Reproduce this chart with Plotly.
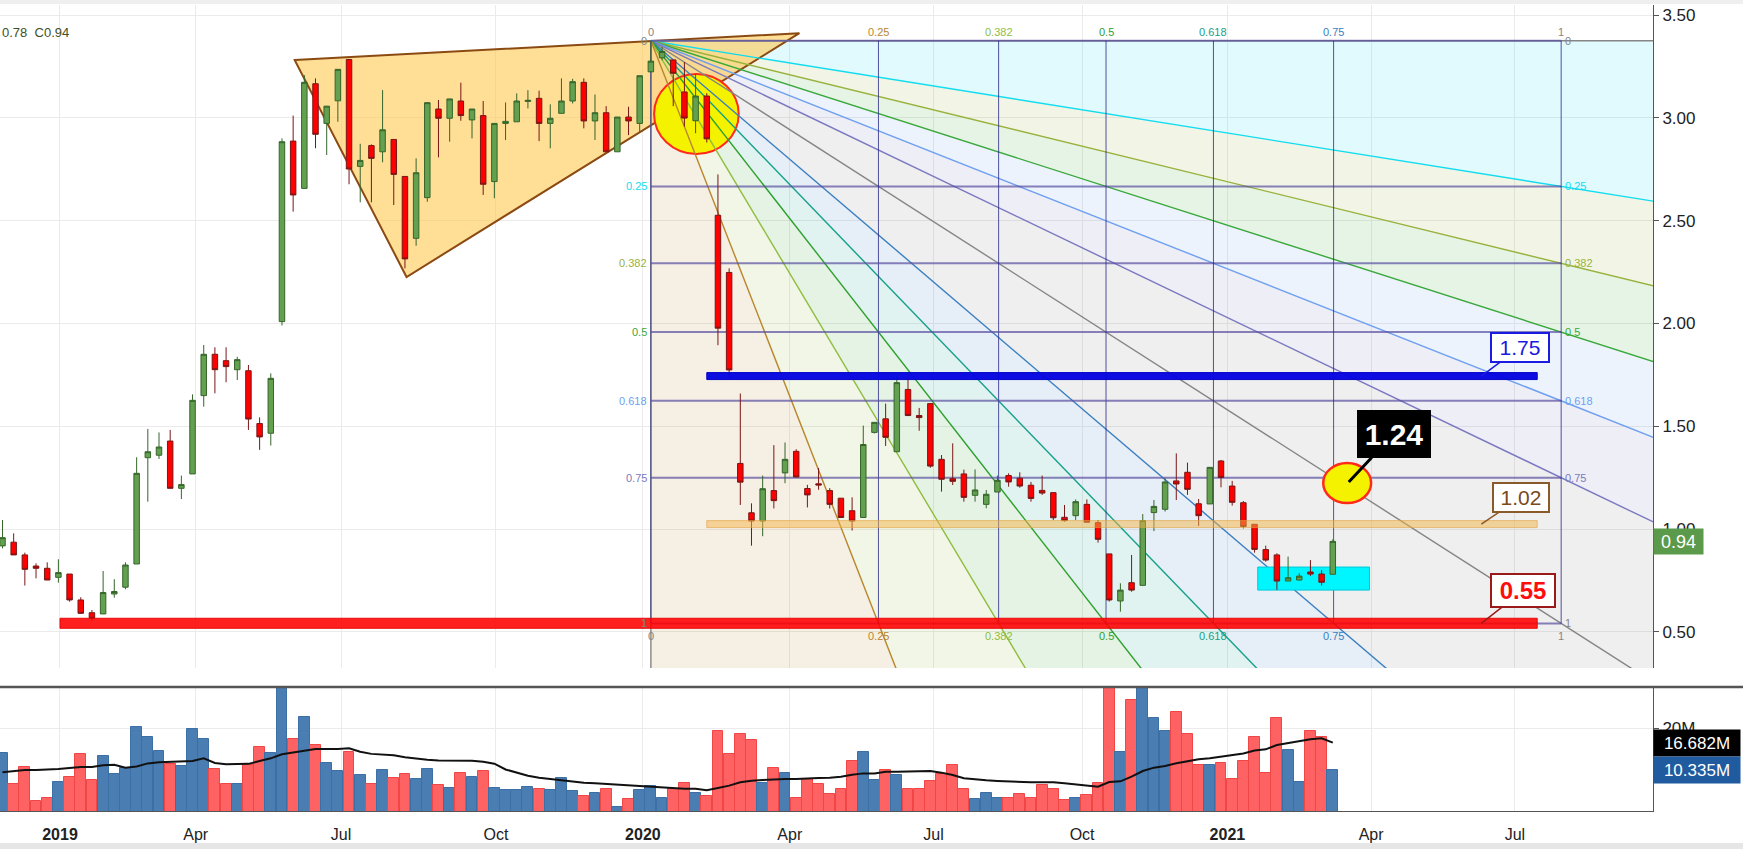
import numpy as np
import pandas as pd
import plotly.graph_objects as go

# ---------------- data (weekly bars) ----------------
FIRST_WEEK = "2018-11-26"
opens = [0.918, 0.936, 0.874, 0.820, 0.809, 0.765, 0.781, 0.655, 0.593, 0.587,
         0.684, 0.717, 0.830, 1.347, 1.359, 1.428, 1.198, 1.268, 1.649, 1.850,
         1.819, 1.775, 1.770, 1.513, 1.466, 2.009, 2.887, 2.657, 3.166, 2.973,
         3.083, 3.284, 2.764, 2.865, 2.835, 2.895, 2.715, 2.414, 2.612, 3.043,
         2.998, 3.082, 2.990, 3.011, 2.690, 2.973, 2.981, 3.080, 3.095, 2.973,
         3.022, 3.082, 3.173, 2.985, 3.025, 2.835, 3.004, 2.973, 3.224, 3.292,
         3.282, 3.126, 2.986, 3.106, 2.526, 2.248, 1.319, 1.079, 1.039, 1.187,
         1.273, 1.378, 1.197, 1.220, 1.187, 1.150, 1.089, 1.056, 1.470, 1.536,
         1.376, 1.679, 1.552, 1.610, 1.339, 1.245, 1.268, 1.164, 1.120, 1.180,
         1.260, 1.247, 1.213, 1.188, 1.177, 1.057, 1.065, 1.120, 1.031, 0.879,
         0.650, 0.739, 0.726, 1.080, 1.096, 1.234, 1.276, 1.123, 1.122, 1.331,
         1.209, 1.128, 1.023, 0.900, 0.874, 0.747, 0.752, 0.791, 0.781, 0.780]
highs = [1.044, 0.979, 0.885, 0.833, 0.838, 0.853, 0.781, 0.668, 0.606, 0.796,
         0.756, 0.838, 1.349, 1.487, 1.470, 1.482, 1.260, 1.655, 1.895, 1.884,
         1.884, 1.838, 1.798, 1.543, 1.757, 2.900, 3.011, 3.208, 3.192, 3.057,
         3.236, 3.284, 2.874, 2.871, 3.135, 2.895, 2.715, 2.803, 3.074, 3.087,
         3.092, 3.171, 3.043, 3.082, 2.973, 3.075, 3.119, 3.135, 3.132, 3.066,
         3.192, 3.190, 3.192, 3.114, 3.057, 3.004, 3.054, 3.205, 3.370, 3.345,
         3.282, 3.271, 3.213, 3.120, 2.725, 2.268, 1.659, 1.125, 1.260, 1.408,
         1.421, 1.388, 1.215, 1.297, 1.199, 1.150, 1.154, 1.503, 1.519, 1.610,
         1.741, 1.741, 1.589, 1.610, 1.360, 1.417, 1.289, 1.290, 1.190, 1.260,
         1.271, 1.276, 1.229, 1.260, 1.177, 1.117, 1.144, 1.144, 1.044, 0.879,
         0.736, 0.874, 1.073, 1.141, 1.247, 1.368, 1.323, 1.146, 1.300, 1.336,
         1.234, 1.136, 1.023, 0.919, 0.882, 0.866, 0.785, 0.849, 0.801, 0.950]
lows = [0.906, 0.874, 0.725, 0.760, 0.752, 0.739, 0.647, 0.587, 0.555, 0.587,
        0.666, 0.707, 0.830, 1.133, 1.341, 1.198, 1.146, 1.268, 1.595, 1.660,
        1.714, 1.725, 1.482, 1.385, 1.406, 1.990, 2.544, 2.657, 2.852, 2.819,
        2.981, 2.677, 2.589, 2.589, 2.784, 2.576, 2.268, 2.378, 2.592, 2.808,
        2.884, 2.986, 2.900, 2.625, 2.609, 2.892, 2.981, 3.046, 2.887, 2.852,
        3.022, 3.070, 2.949, 2.892, 2.835, 2.835, 2.916, 2.933, 3.221, 3.280,
        3.057, 2.958, 2.925, 2.880, 1.894, 1.733, 1.117, 0.919, 0.965, 1.100,
        1.223, 1.253, 1.105, 1.191, 1.100, 1.056, 0.993, 1.056, 1.465, 1.404,
        1.376, 1.552, 1.478, 1.298, 1.182, 1.214, 1.133, 1.133, 1.101, 1.180,
        1.206, 1.201, 1.133, 1.166, 1.044, 1.036, 1.044, 1.033, 0.934, 0.647,
        0.598, 0.695, 0.726, 0.990, 1.085, 1.141, 1.166, 1.015, 1.122, 1.203,
        1.114, 1.003, 0.885, 0.841, 0.704, 0.747, 0.749, 0.772, 0.725, 0.780]
closes = [0.958, 0.874, 0.804, 0.809, 0.752, 0.788, 0.655, 0.590, 0.566, 0.691,
          0.696, 0.825, 1.271, 1.376, 1.399, 1.198, 1.216, 1.626, 1.850, 1.775,
          1.790, 1.824, 1.535, 1.448, 1.733, 2.884, 2.625, 3.173, 2.920, 3.057,
          3.236, 2.751, 2.793, 2.803, 2.942, 2.725, 2.314, 2.733, 3.074, 2.998,
          3.092, 3.011, 3.043, 2.677, 2.973, 2.983, 3.082, 3.085, 2.973, 2.998,
          3.082, 3.176, 2.985, 3.025, 2.835, 3.004, 2.985, 3.205, 3.276, 3.323,
          3.217, 2.999, 3.106, 2.898, 1.977, 1.774, 1.228, 1.039, 1.196, 1.138,
          1.339, 1.253, 1.166, 1.214, 1.120, 1.056, 1.039, 1.411, 1.519, 1.446,
          1.712, 1.552, 1.542, 1.306, 1.242, 1.232, 1.154, 1.190, 1.169, 1.237,
          1.229, 1.209, 1.149, 1.175, 1.055, 1.041, 1.133, 1.033, 0.950, 0.655,
          0.703, 0.703, 1.041, 1.110, 1.229, 1.219, 1.193, 1.065, 1.300, 1.251,
          1.130, 1.012, 0.901, 0.849, 0.747, 0.763, 0.771, 0.781, 0.741, 0.940]
volume_m = [14.4, 7.15, 11.15, 3.15, 3.84, 7.6, 8.77, 14.0, 8.0, 13.6,
            9.45, 10.76, 20.4, 17.9, 14.76, 11.8, 11.3, 19.8, 17.5, 10.7,
            7.15, 7.15, 11.5, 15.7, 14.4, 32.0, 17.6, 22.7, 16.15, 11.9,
            10.2, 14.6, 9.23, 7.15, 10.45, 8.6, 9.45, 8.4, 10.6, 6.9,
            6.15, 9.7, 8.77, 10.2, 6.15, 5.7, 5.7, 6.46, 5.9, 5.77,
            8.46, 5.54, 4.38, 5.0, 6.07, 1.92, 3.61, 5.84, 6.6, 4.0,
            6.0, 7.3, 5.0, 4.46, 19.4, 14.0, 18.8, 17.3, 7.38, 10.84,
            9.6, 4.0, 8.3, 7.15, 4.77, 5.9, 12.45, 14.5, 8.15, 10.45,
            9.23, 6.07, 6.07, 7.9, 9.5, 11.46, 5.9, 3.77, 5.0, 4.0,
            4.0, 4.77, 4.0, 6.9, 6.07, 3.46, 4.0, 4.6, 7.3, 31.0,
            14.5, 26.6, 31.0, 22.3, 19.4, 23.8, 18.7, 11.5, 11.5, 11.9,
            8.38, 12.45, 18.07, 9.6, 22.45, 14.9, 7.6, 19.3, 18.1, 10.335]
volume_ma_m = [9.84, 10.15, 10.4, 10.4, 10.45, 10.6, 10.84, 11.07, 11.07, 11.46,
               11.6, 10.9, 11.2, 11.9, 12.15, 12.2, 12.3, 12.45, 13.07, 12.0,
               11.7, 11.7, 11.8, 12.45, 13.07, 14.0, 14.4, 14.84, 15.2, 15.2,
               15.2, 15.4, 14.6, 14.1, 13.9, 13.8, 13.3, 13.0, 12.76, 12.6,
               12.6, 12.6, 12.5, 12.3, 11.84, 10.5, 9.84, 9.07, 8.6, 8.3,
               8.15, 7.7, 7.46, 7.3, 7.15, 6.92, 6.77, 6.69, 6.46, 6.3,
               6.15, 6.07, 6.07, 5.69, 6.23, 6.77, 7.53, 7.92, 8.07, 8.23,
               8.3, 8.3, 8.46, 8.53, 8.6, 8.84, 9.3, 9.6, 9.6, 10.0,
               10.0, 10.07, 10.15, 10.15, 9.77, 9.23, 8.46, 8.15, 8.0, 7.84,
               7.69, 7.69, 7.53, 7.53, 7.53, 7.3, 7.0, 6.69, 6.54, 7.6,
               7.77, 8.84, 10.15, 10.92, 11.3, 11.92, 12.45, 12.84, 13.07, 13.5,
               13.84, 14.2, 14.9, 15.15, 16.15, 16.6, 16.9, 17.45, 17.7, 16.682]

tick_dates = ["2019-01-01", "2019-03-27", "2019-06-26", "2019-10-01", "2020-01-01",
              "2020-04-02", "2020-07-01", "2020-10-02", "2021-01-01", "2021-04-01", "2021-06-30"]
tick_text = ["<b>2019</b>", "Apr", "Jul", "Oct", "<b>2020</b>", "Apr", "Jul", "Oct",
             "<b>2021</b>", "Apr", "Jul"]
price_ticks = [0.5, 1.0, 1.5, 2.0, 2.5, 3.0, 3.5]
fib_levels = [0, 0.25, 0.382, 0.5, 0.618, 0.75, 1]
fib_labels = ["0", "0.25", "0.382", "0.5", "0.618", "0.75", "1"]

# drawings (anchor dates / prices)
FAN_T0, FAN_P0 = pd.Timestamp("2020-01-06"), 3.375
FAN_T1, FAN_P1 = pd.Timestamp("2021-07-29"), 0.541
TRIANGLE = [("2019-05-28", 3.281), ("2020-04-08", 3.412), ("2019-08-06", 2.226)]
ELLIPSE1 = ("2020-01-08", "2020-03-01", 2.824, 3.213)
ELLIPSE2 = ("2021-03-02", "2021-04-01", 1.126, 1.321)
CYAN_BOX = ("2021-01-20", "2021-03-31", 0.703, 0.815)
BAND_175 = ("2020-02-10", "2021-07-14", 1.727, 1.761)
BAND_102 = ("2020-02-10", "2021-07-14", 1.007, 1.041)
BAND_055 = ("2019-01-01", "2021-07-14", 0.517, 0.566)
CALLOUT_DATE = "2021-06-09"
CALLOUT_124 = ("2021-03-18", 1.229)
LAST_PRICE = 0.94
LAST_VOL_MA = 16.682
LAST_VOL = 10.335

dates = pd.date_range(FIRST_WEEK, periods=len(closes), freq="7D")

# ---------------- helpers ----------------
FONT = "Liberation Sans, Arial, sans-serif"


def rgba(hexcol, a):
    h = hexcol.lstrip("#")
    r, g, b = int(h[0:2], 16), int(h[2:4], 16), int(h[4:6], 16)
    return f"rgba({r},{g},{b},{a})"


def tpos(a):
    return FAN_T0 + (FAN_T1 - FAN_T0) * a


def ppos(b):
    return FAN_P0 - (FAN_P0 - FAN_P1) * b


def ds(t):
    return pd.Timestamp(t).strftime("%Y-%m-%d %H:%M:%S")


def pp(t, p):  # path point on a date axis
    return f"{pd.Timestamp(t).strftime('%Y-%m-%d_%H:%M:%S')},{p:.5f}"


GRAY = "#858585"
PRICE_COL = {0: GRAY, 0.25: "#12dcef", 0.382: "#98b23c", 0.5: "#3aa83a",
             0.618: "#6e9ff0", 0.75: "#7a78c0", 1: GRAY}
TIME_COL = {0: GRAY, 0.25: "#b8862b", 0.382: "#8fbd3f", 0.5: "#2ea02e",
            0.618: "#14a08a", 0.75: "#3a7fc1", 1: GRAY}

shapes = []
LAY = "between"

# ---------------- fan fills ----------------
rays = [(1, 0), (1, .25), (1, .382), (1, .5), (1, .618), (1, .75), (1, 1),
        (.75, 1), (.618, 1), (.5, 1), (.382, 1), (.25, 1), (0, 1)]
ray_cols = [PRICE_COL[0], PRICE_COL[.25], PRICE_COL[.382], PRICE_COL[.5], PRICE_COL[.618],
            PRICE_COL[.75], GRAY, TIME_COL[.75], TIME_COL[.618], TIME_COL[.5],
            TIME_COL[.382], TIME_COL[.25], TIME_COL[0]]
F = 4
for i in range(len(rays) - 1):
    a1, b1 = rays[i]
    a2, b2 = rays[i + 1]
    col = ray_cols[i + 1] if i < 6 else ray_cols[i]
    path = (f"M{pp(tpos(0), ppos(0))} L{pp(tpos(F * a1), ppos(F * b1))} "
            f"L{pp(tpos(F * a2), ppos(F * b2))} Z")
    shapes.append(dict(type="path", xref="x", yref="y", path=path, fillcolor=rgba(col, 0.13),
                       line=dict(width=0), layer=LAY))

# ---------------- triangle ----------------
tri_path = "M" + " L".join(pp(t, p) for t, p in TRIANGLE) + " Z"
shapes.append(dict(type="path", xref="x", yref="y", path=tri_path, fillcolor="rgba(255,202,85,0.62)",
                   line=dict(color="#8a4a12", width=2), layer=LAY))

# ---------------- ellipse 1 ----------------
shapes.append(dict(type="circle", xref="x", yref="y", x0=ELLIPSE1[0], x1=ELLIPSE1[1],
                   y0=ELLIPSE1[2], y1=ELLIPSE1[3], fillcolor="#f5f200",
                   line=dict(color="#ff2a1a", width=2), layer=LAY))

# ---------------- fan rays ----------------
for (a, b), col in zip(rays, ray_cols):
    shapes.append(dict(type="line", xref="x", yref="y", x0=ds(tpos(0)), y0=ppos(0),
                       x1=ds(tpos(F * a)), y1=ppos(F * b), line=dict(color=col, width=1.4), layer=LAY))

# ---------------- box grid ----------------
for lv in fib_levels:
    shapes.append(dict(type="line", xref="x", yref="y", x0=ds(tpos(0)), x1=ds(tpos(1)),
                       y0=ppos(lv), y1=ppos(lv), line=dict(color="rgba(88,78,160,0.7)", width=2), layer=LAY))
    shapes.append(dict(type="line", xref="x", yref="y", x0=ds(tpos(lv)), x1=ds(tpos(lv)),
                       y0=ppos(0), y1=ppos(1), line=dict(color="rgba(40,40,135,0.8)", width=1), layer=LAY))

# ---------------- cyan consolidation box ----------------
shapes.append(dict(type="rect", xref="x", yref="y", x0=CYAN_BOX[0], x1=CYAN_BOX[1],
                   y0=CYAN_BOX[2], y1=CYAN_BOX[3], fillcolor="#00f6ff",
                   line=dict(color="#00c8d8", width=1), layer=LAY))

# ---------------- level bands (above candles) ----------------
for (x0, x1, y0, y1), fc, lc in [(BAND_102, "rgba(243,180,70,0.5)", "rgba(225,160,60,0.6)"),
                                  (BAND_175, "rgba(5,5,225,0.97)", "rgba(5,5,200,1)"),
                                  (BAND_055, "rgba(255,0,0,0.88)", "rgba(230,0,0,0.9)")]:
    shapes.append(dict(type="rect", xref="x", yref="y", x0=x0, x1=x1, y0=y0, y1=y1,
                       fillcolor=fc, line=dict(color=lc, width=1), layer="above"))
shapes.append(dict(type="circle", xref="x", yref="y", x0=ELLIPSE2[0], x1=ELLIPSE2[1],
                   y0=ELLIPSE2[2], y1=ELLIPSE2[3], fillcolor="#f5f200",
                   line=dict(color="#ff2a1a", width=2.5), layer="above"))
# pane separator and chrome bands
shapes.append(dict(type="line", xref="paper", yref="paper", x0=0, x1=1, y0=1 - 687 / 849, y1=1 - 687 / 849,
                   line=dict(color="#555555", width=2.5)))
shapes.append(dict(type="rect", xref="paper", yref="paper", x0=0, x1=1, y0=1 - 4 / 849, y1=1,
                   fillcolor="#efefef", line=dict(width=0)))
shapes.append(dict(type="rect", xref="paper", yref="paper", x0=0, x1=1, y0=0, y1=6 / 849,
                   fillcolor="#e6e6e6", line=dict(width=0)))

fig = go.Figure()

# ---------------- candles ----------------
fig.add_trace(go.Candlestick(
    x=dates, open=opens, high=highs, low=lows, close=closes,
    increasing=dict(fillcolor="#63a150", line=dict(color="#35652a", width=1)),
    decreasing=dict(fillcolor="#ff0000", line=dict(color="#7a1616", width=1)),
    whiskerwidth=0, showlegend=False, hoverinfo="skip"))

# ---------------- volume ----------------
vcols = ["#4a7db2" if c >= o else "#ff6262" for o, c in zip(opens, closes)]
vline = ["#3c6fa6" if c >= o else "#f04646" for o, c in zip(opens, closes)]
fig.add_trace(go.Bar(x=dates, y=volume_m, yaxis="y2", marker=dict(color=vcols, line=dict(color=vline, width=1)),
                     width=7 * 86400000 * 0.97, showlegend=False, hoverinfo="skip"))
fig.add_trace(go.Scatter(x=dates, y=volume_ma_m, yaxis="y2", mode="lines",
                         line=dict(color="#111111", width=2), showlegend=False, hoverinfo="skip"))

# ---------------- annotations ----------------
ann = []
for lv, lab in zip(fib_levels, fib_labels):
    ann.append(dict(x=ds(tpos(lv)), y=ppos(0), xref="x", yref="y", text=lab, showarrow=False,
                    yanchor="bottom", yshift=1, font=dict(size=11, color=TIME_COL[lv], family=FONT)))
    ann.append(dict(x=ds(tpos(lv)), y=ppos(1), xref="x", yref="y", text=lab, showarrow=False,
                    yanchor="top", yshift=-5, font=dict(size=11, color=TIME_COL[lv], family=FONT)))
    ann.append(dict(x=ds(tpos(0)), y=ppos(lv), xref="x", yref="y", text=lab, showarrow=False,
                    xanchor="right", xshift=-2, font=dict(size=11, color=PRICE_COL[lv], family=FONT)))
    ann.append(dict(x=ds(tpos(1)), y=ppos(lv), xref="x", yref="y", text=lab, showarrow=False,
                    xanchor="left", xshift=2, font=dict(size=11, color=PRICE_COL[lv], family=FONT)))

# callouts
ann.append(dict(x=CALLOUT_DATE, y=(BAND_175[2] + BAND_175[3]) / 2, xref="x", yref="y", text="1.75",
                ax=39, ay=-29, showarrow=True, arrowhead=0, arrowwidth=1.5, arrowcolor="#1a1ae0",
                bgcolor="white", bordercolor="#1a1ae0", borderwidth=2, borderpad=1, width=54, height=25,
                font=dict(size=21, color="#1a1ae0", family=FONT)))
ann.append(dict(x=CALLOUT_DATE, y=(BAND_102[2] + BAND_102[3]) / 2, xref="x", yref="y", text="1.02",
                ax=40, ay=-27, showarrow=True, arrowhead=0, arrowwidth=1.5, arrowcolor="#8b5a2b",
                bgcolor="white", bordercolor="#8b5a2b", borderwidth=2, borderpad=1, width=52, height=25,
                font=dict(size=21, color="#7a4a1a", family=FONT)))
ann.append(dict(x=CALLOUT_DATE, y=(BAND_055[2] + BAND_055[3]) / 2, xref="x", yref="y", text="<b>0.55</b>",
                ax=42, ay=-33, showarrow=True, arrowhead=0, arrowwidth=1.5, arrowcolor="#9a1a1a",
                bgcolor="white", bordercolor="#9a1a1a", borderwidth=2, borderpad=1, width=60, height=29,
                font=dict(size=24, color="#ff0d0d", family=FONT)))
ann.append(dict(x=CALLOUT_124[0], y=CALLOUT_124[1], xref="x", yref="y", text="<b>1.24</b>",
                ax=45, ay=-48, showarrow=True, arrowhead=0, arrowwidth=3, arrowcolor="#000000",
                bgcolor="#000000", bordercolor="#000000", borderwidth=1, borderpad=4, width=64, height=38,
                font=dict(size=30, color="white", family=FONT)))

# right-side value labels
XR = 1653 / 1743
ann.append(dict(x=XR, y=LAST_PRICE, xref="paper", yref="y", text=f"{LAST_PRICE:.2f}", showarrow=False,
                xanchor="left", bgcolor="#5b9a4a", borderpad=3, width=43, height=19,
                font=dict(size=18, color="white", family=FONT)))
ann.append(dict(x=XR, y=LAST_VOL_MA, xref="paper", yref="y2", text=f"{LAST_VOL_MA:.3f}M", showarrow=False,
                xanchor="left", bgcolor="#000000", borderpad=2, width=82, height=22,
                font=dict(size=17, color="white", family=FONT)))
ann.append(dict(x=XR, y=LAST_VOL, xref="paper", yref="y2", text=f"{LAST_VOL:.3f}M", showarrow=False,
                xanchor="left", bgcolor="#1f5b9e", borderpad=2, width=82, height=22,
                font=dict(size=17, color="white", family=FONT)))
ann.append(dict(x=0, y=1 - 23 / 849, xref="paper", yref="paper", text="0.78  C0.94", showarrow=False,
                xanchor="left", font=dict(size=13, color="#3f4f25", family=FONT)))

fig.update_layout(
    width=1743, height=849, margin=dict(l=0, r=0, t=0, b=0),
    paper_bgcolor="white", plot_bgcolor="white", showlegend=False,
    font=dict(family=FONT, color="#222222"),
    xaxis=dict(type="date", domain=[0, XR], range=["2018-11-24 10:30", "2021-09-24 12:00"],
               anchor="y2", tickvals=tick_dates, ticktext=tick_text, showgrid=True,
               gridcolor="#ebebeb", showline=True, linecolor="#555555", linewidth=1,
               ticks="outside", ticklen=9, tickcolor="rgba(0,0,0,0)",
               tickfont=dict(size=16, color="#222222"), rangeslider=dict(visible=False), zeroline=False),
    yaxis=dict(domain=[1 - 668 / 849, 1 - 5 / 849], range=[0.324, 3.549], side="right", anchor="x",
               tickvals=price_ticks, tickformat=".2f", showgrid=True, gridcolor="#ebebeb",
               showline=True, linecolor="#555555", ticks="outside", ticklen=5, tickcolor="#555555",
               tickfont=dict(size=17, color="#222222"), zeroline=False),
    yaxis2=dict(domain=[1 - 811 / 849, 1 - 688 / 849], range=[0.92, 29.3], side="right", anchor="x",
                tickvals=[20], ticktext=["20M"], showgrid=True, gridcolor="#ebebeb",
                showline=True, linecolor="#555555", ticks="outside", ticklen=5, tickcolor="#555555",
                tickfont=dict(size=17, color="#222222"), zeroline=False),
    shapes=shapes, annotations=ann, bargap=0,
)

fig.write_html("out.html", config={"displayModeBar": False},
               post_script="document.body.style.margin='0';document.body.style.overflow='hidden';")
